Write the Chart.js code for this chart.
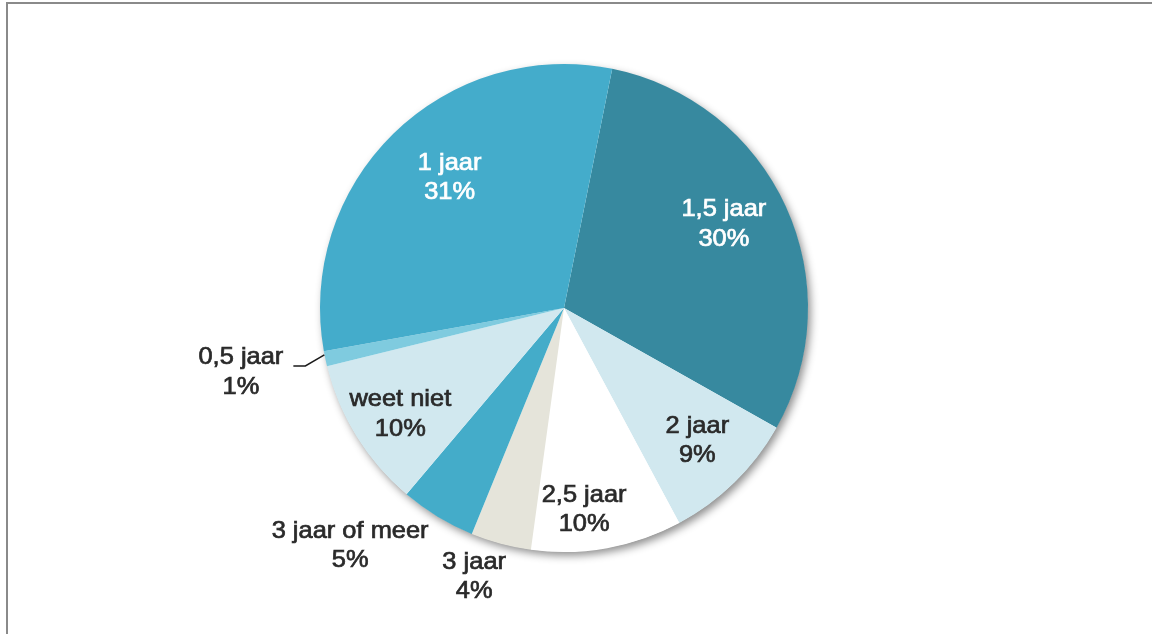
<!DOCTYPE html>
<html>
<head>
<meta charset="utf-8">
<script src="https://cdn.jsdelivr.net/npm/chart.js@4/dist/chart.umd.min.js"></script>
<style>
  html, body { margin: 0; padding: 0; background: #fff; }
  #wrap { position: relative; width: 1152px; height: 634px; overflow: hidden; }
  #frame { position: absolute; left: 6px; top: 2px; right: -10px; bottom: -10px;
           border-top: 2px solid #8a8a8a; border-left: 2px solid #8a8a8a; pointer-events: none; }
  canvas { position: absolute; left: 0; top: 0; }
</style>
</head>
<body>
<div id="wrap">
  <canvas id="c" width="1152" height="634"></canvas>
  <div id="frame"></div>
</div>
<script>
const categories = ['1,5 jaar', '2 jaar', '2,5 jaar', '3 jaar', '3 jaar of meer', 'weet niet', '0,5 jaar', '1 jaar'];
const values = [30, 9, 10, 4, 5, 10, 1, 31];
const sliceColors = ['#37899f', '#d1e8ef', '#ffffff', '#e5e4da', '#44acc9', '#d1e8ef', '#7fcbdf', '#44accb'];
const labelColors = ['#ffffff', '#2a2a2a', '#2a2a2a', '#2a2a2a', '#2a2a2a', '#2a2a2a', '#2a2a2a', '#ffffff'];
// [radius factor, angle shift in degrees] for label placement
const labelPlacement = [[0.74, -3.1], [0.77, -0.8], [0.83, 4.5], [1.16, 3.5], [1.31, 10.8], [0.80, -1.2], [1.35, 0.8], [0.71, 3.1]];

const shadowPlugin = {
  id: 'pieShadow',
  beforeDatasetsDraw(chart) {
    const arc = chart.getDatasetMeta(0).data[0];
    if (!arc) return;
    const ctx = chart.ctx;
    ctx.save();
    ctx.shadowColor = 'rgba(0,0,0,0.45)';
    ctx.shadowBlur = 9;
    ctx.shadowOffsetX = 3;
    ctx.shadowOffsetY = 4;
    ctx.fillStyle = '#ffffff';
    ctx.beginPath();
    ctx.arc(arc.x, arc.y, arc.outerRadius - 0.5, 0, Math.PI * 2);
    ctx.fill();
    ctx.restore();
  }
};

function drawText(ctx, text, x, y, color) {
  ctx.save();
  ctx.translate(x, y);
  ctx.scale(1.06, 1);
  ctx.fillStyle = color;
  ctx.strokeStyle = color;
  ctx.lineWidth = 0.7;
  ctx.fillText(text, 0, 0);
  ctx.strokeText(text, 0, 0);
  ctx.restore();
}

const labelPlugin = {
  id: 'sliceLabels',
  afterDatasetsDraw(chart) {
    const ctx = chart.ctx;
    const meta = chart.getDatasetMeta(0);
    ctx.save();
    ctx.font = '24px "Liberation Sans", Arial, sans-serif';
    ctx.textAlign = 'center';
    ctx.textBaseline = 'middle';
    meta.data.forEach((arc, i) => {
      const [rf, shift] = labelPlacement[i];
      const mid = (arc.startAngle + arc.endAngle) / 2 + shift * Math.PI / 180;
      const r = arc.outerRadius * rf;
      const x = arc.x + Math.cos(mid) * r;
      const y = arc.y + Math.sin(mid) * r;
      drawText(ctx, categories[i], x, y - 14.5, labelColors[i]);
      drawText(ctx, values[i] + '%', x, y + 15, labelColors[i]);
      if (categories[i] === '0,5 jaar') {
        const m0 = (arc.startAngle + arc.endAngle) / 2;
        const ex = arc.x + Math.cos(m0) * (arc.outerRadius + 1);
        const ey = arc.y + Math.sin(m0) * (arc.outerRadius + 1) - 4;
        ctx.strokeStyle = '#1a1a1a';
        ctx.lineWidth = 1.5;
        ctx.beginPath();
        ctx.moveTo(ex, ey);
        ctx.lineTo(ex - 19, ey + 11);
        ctx.lineTo(ex - 31, ey + 11);
        ctx.stroke();
      }
    });
    ctx.restore();
  }
};

new Chart(document.getElementById('c'), {
  type: 'pie',
  data: {
    labels: categories,
    datasets: [{
      data: values,
      backgroundColor: sliceColors,
      borderWidth: 0
    }]
  },
  options: {
    responsive: false,
    animation: false,
    rotation: 11.4,
    layout: { padding: { left: 320, right: 344, top: 64, bottom: 82 } },
    plugins: { legend: { display: false }, tooltip: { enabled: false } }
  },
  plugins: [shadowPlugin, labelPlugin]
});
</script>
</body>
</html>
